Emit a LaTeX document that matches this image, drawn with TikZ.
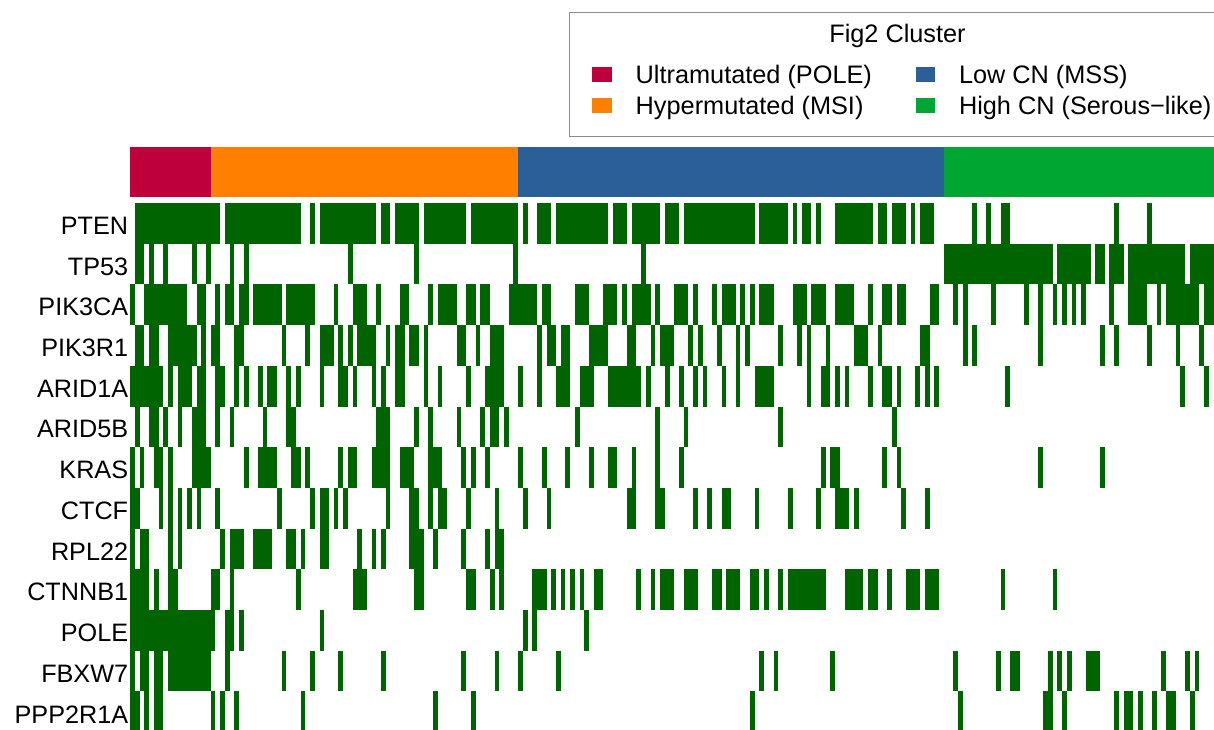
\documentclass[tikz,border=0pt]{standalone}
\usepackage{fontspec}
\setmainfont{Liberation Sans}

\definecolor{polecol}{RGB}{190,0,60}
\definecolor{msicol}{RGB}{255,127,0}
\definecolor{msscol}{RGB}{43,95,152}
\definecolor{sercol}{RGB}{0,166,50}
\definecolor{mutcol}{RGB}{0,100,0}

% columnas: x = 130.3 + 4.73 i ; filas: y = 203 + 40.7 r
\newcommand{\mutfila}[2]{%
  \foreach \a/\b in {#2}
    \fill[mutcol] ({130.3+4.73*\a},{203+40.7*#1}) rectangle ({130.3+4.73*(\b+1)},{203+40.7*(#1+1)});
}

\begin{document}
\begin{tikzpicture}[x=1pt,y=-1pt,
    gen/.style={anchor=east,inner sep=0pt,font=\fontsize{25.2}{30}\selectfont},
    leyenda/.style={anchor=base west,inner sep=0pt,font=\fontsize{25.3}{30}\selectfont}]
  \useasboundingbox (0,0) rectangle (1214,730);
  \clip (0,0) rectangle (1214,730);

  % Leyenda
  \draw[black!45, thin] (569.3,12.3) rectangle (1230,136);
  \node[anchor=base,inner sep=0pt,font=\fontsize{25.3}{30}\selectfont] (titulo) at (897.5,42.3) {Fig2 Cluster};
  \fill[polecol] (592.3,66.7) rectangle (611.7,82.3);
  \node[leyenda] (lpole) at (635.5,83.7) {Ultramutated (POLE)};
  \fill[msicol] (592.3,97.7) rectangle (611.7,113.3);
  \node[leyenda] (lmsi) at (635.5,114.3) {Hypermutated (MSI)};
  \fill[msscol] (916,67) rectangle (934.7,82.3);
  \node[leyenda] (lmss) at (958.8,83.7) {Low CN (MSS)};
  \fill[sercol] (916,98) rectangle (934.7,113.3);
  \node[leyenda] (lser) at (958.8,114.3) {High CN (Serous−like)};

  % Barra de grupos
  \fill[polecol] (130.3,147.3) rectangle ({130.3+4.73*17},196.7);
  \fill[msicol] ({130.3+4.73*17},147.3) rectangle ({130.3+4.73*82},196.7);
  \fill[msscol] ({130.3+4.73*82},147.3) rectangle ({130.3+4.73*172},196.7);
  \fill[sercol] ({130.3+4.73*172},147.3) rectangle (1214,196.7);

  % Genes
  \foreach \g [count=\i from 0] in {PTEN,TP53,PIK3CA,PIK3R1,ARID1A,ARID5B,KRAS,CTCF,RPL22,CTNNB1,POLE,FBXW7,PPP2R1A}
    \node[gen] (g\i) at (128.3,{225.85+40.7*\i}) {\g};

  % Mutaciones
  \mutfila{0}{1/18,20/35,38/38,40/51,53/54,56/60,62/70,72/81,83/83,86/88,90/100,102/104,106/111,113/115,117/131,133/138,140/140,142/143,145/145,149/156,158/159,161/163,165/165,167/169,178/178,181/181,184/185,208/208,215/215}
  \mutfila{1}{1/2,4/4,7/7,13/13,16/16,21/21,24/24,46/46,60/60,81/81,108/108,172/194,196/202,204/205,207/209,211/222,224/231}
  \mutfila{2}{0/0,3/11,14/15,18/18,20/21,23/24,26/31,33/38,43/43,47/49,52/52,57/58,63/63,65/68,71/72,74/75,80/85,87/88,94/96,100/102,104/104,106/109,111/111,115/117,119/119,123/123,125/127,129/129,131/131,133/135,140/142,144/146,149/152,156/156,159/160,162/163,169/170,174/174,176/176,182/182,189/189,192/192,195/195,197/197,199/199,201/201,207/207,211/214,217/217,219/225,227/231}
  \mutfila{3}{1/2,4/5,8/13,15/15,17/18,22/23,32/32,37/37,40/42,44/44,46/46,48/51,54/54,56/57,59/60,62/62,69/70,73/73,76/78,86/86,88/89,91/92,97/100,105/106,110/110,112/114,118/118,120/120,124/124,128/128,130/130,137/137,141/141,143/143,147/147,153/155,158/158,167/168,176/176,178/178,192/192,205/205,208/208,215/215,221/221,226/226}
  \mutfila{4}{0/6,8/8,10/12,14/15,18/19,22/22,24/24,27/27,29/30,33/33,35/35,40/40,44/45,47/47,51/51,53/53,56/57,62/62,65/65,71/71,75/78,82/82,86/86,90/92,95/97,101/107,109/109,113/113,116/116,119/119,121/121,125/125,128/128,132/135,143/143,146/147,149/149,151/151,156/156,159/160,162/162,166/166,168/168,170/170,185/185,222/222,227/227}
  \mutfila{5}{1/1,4/5,7/7,10/10,13/15,18/18,21/21,28/28,33/34,52/54,60/60,63/63,69/69,74/74,76/77,79/79,94/94,111/111,117/117,137/137,161/161}
  \mutfila{6}{0/0,2/2,5/6,8/8,13/16,24/24,27/30,34/35,37/37,44/44,46/47,51/54,57/59,63/65,70/70,72/72,75/75,82/82,87/87,92/92,97/97,101/102,106/106,111/111,116/116,146/146,148/149,159/159,162/162,192/192,205/205}
  \mutfila{7}{0/1,6/6,8/8,10/10,12/12,14/14,18/18,31/31,38/38,40/41,43/43,45/45,54/54,59/60,63/63,65/66,71/71,77/77,83/83,88/88,105/106,111/112,119/119,122/122,125/126,132/132,139/139,145/145,149/151,153/153,163/163,168/168}
  \mutfila{8}{0/0,2/3,8/8,10/10,19/19,21/23,26/29,33/34,36/36,40/41,48/48,51/51,53/53,59/61,64/64,70/70,75/75,77/78}
  \mutfila{9}{0/3,5/5,8/9,17/18,21/21,35/35,47/49,60/61,71/72,76/76,78/78,85/87,89/89,91/91,93/93,95/95,98/99,107/107,110/110,112/114,117/119,123/124,126/128,131/132,134/134,137/137,139/146,151/154,156/157,160/160,164/166,168/170,184/184,195/195}
  \mutfila{10}{0/17,20/21,23/23,40/40,83/83,85/85,96/96}
  \mutfila{11}{0/0,2/3,5/6,8/16,20/20,32/32,38/38,44/44,53/53,70/70,77/77,82/82,90/90,133/133,136/136,148/148,174/174,183/183,186/187,194/194,196/196,198/198,202/204,218/218,223/223,225/225}
  \mutfila{12}{0/1,3/3,5/6,17/17,19/19,22/22,36/36,64/64,72/72,131/131,175/175,193/194,197/197,208/208,210/211,213/213,216/216,219/220,224/224}
\end{tikzpicture}
\end{document}
